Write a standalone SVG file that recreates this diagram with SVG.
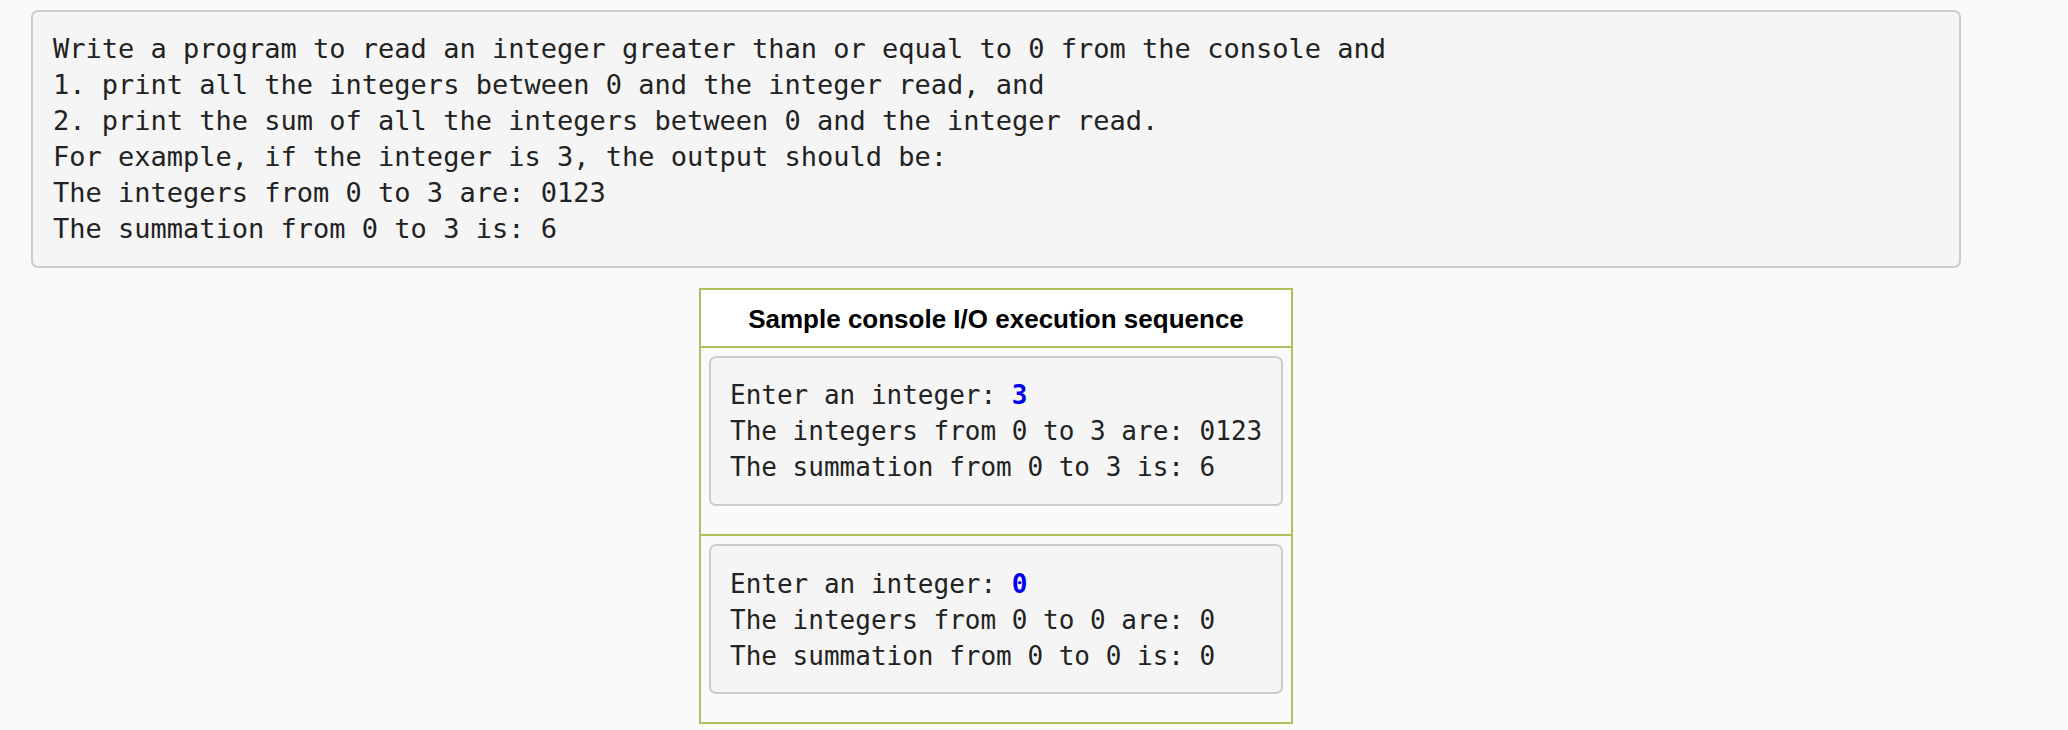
<svg xmlns="http://www.w3.org/2000/svg" width="2068" height="730" viewBox="0 0 2068 730">
<style>
.m{font-family:"DejaVu Sans Mono","Liberation Mono",monospace;fill:#222}
.t{font-size:27px}.s{font-size:26px}
.box{fill:#f5f5f5;stroke:#cccccc;stroke-width:2}
.in{fill:#0000ee;font-weight:bold}
</style>
<rect width="2068" height="730" fill="#fafafa"/>
<g id="problem">
<rect class="box" x="32" y="11" width="1928" height="256" rx="6"/>
<text class="m t" x="53" y="58">Write a program to read an integer greater than or equal to 0 from the console and</text>
<text class="m t" x="53" y="94">1. print all the integers between 0 and the integer read, and</text>
<text class="m t" x="53" y="130">2. print the sum of all the integers between 0 and the integer read.</text>
<text class="m t" x="53" y="166">For example, if the integer is 3, the output should be:</text>
<text class="m t" x="53" y="202">The integers from 0 to 3 are: 0123</text>
<text class="m t" x="53" y="238">The summation from 0 to 3 is: 6</text>
</g>
<g id="sample">
<rect x="700" y="289" width="592" height="434" fill="#fafafa" stroke="#a9c25a" stroke-width="2"/>
<rect x="701" y="290" width="590" height="57" fill="#ffffff"/>
<line x1="700" y1="347" x2="1292" y2="347" stroke="#a9c25a" stroke-width="2"/>
<line x1="700" y1="535" x2="1292" y2="535" stroke="#a9c25a" stroke-width="2"/>
<text x="996" y="328" text-anchor="middle" font-family="Liberation Sans,Arial,sans-serif" font-weight="bold" font-size="26" fill="#000">Sample console I/O execution sequence</text>
<rect class="box" x="710" y="357" width="572" height="148" rx="6"/>
<text class="m s" x="730" y="404">Enter an integer: <tspan class="in">3</tspan></text>
<text class="m s" x="730" y="440">The integers from 0 to 3 are: 0123</text>
<text class="m s" x="730" y="476">The summation from 0 to 3 is: 6</text>
<rect class="box" x="710" y="545" width="572" height="148" rx="6"/>
<text class="m s" x="730" y="593">Enter an integer: <tspan class="in">0</tspan></text>
<text class="m s" x="730" y="629">The integers from 0 to 0 are: 0</text>
<text class="m s" x="730" y="665">The summation from 0 to 0 is: 0</text>
</g>
<g id="connectors"/>
</svg>
